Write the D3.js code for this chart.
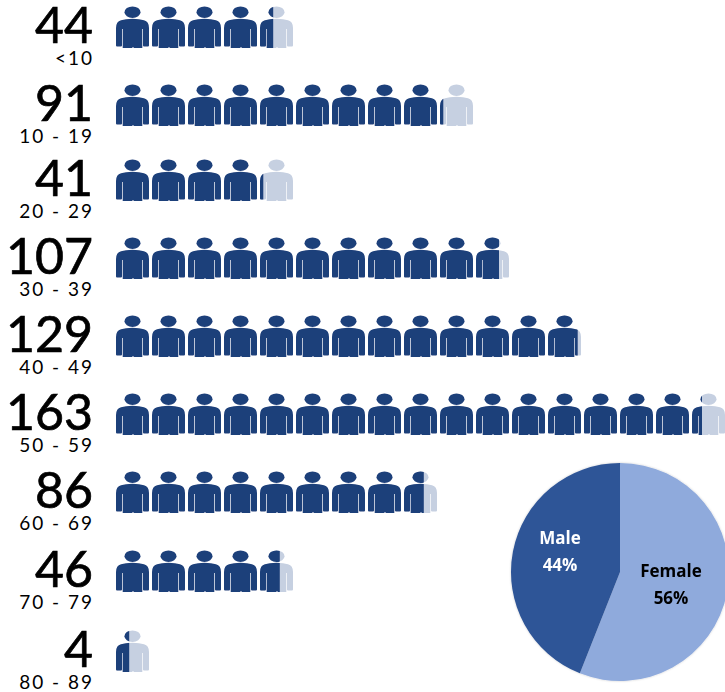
<!DOCTYPE html>
<html>
<head>
<meta charset="utf-8">
<script src="https://cdn.jsdelivr.net/npm/d3@7"></script>
<style>
  html, body { margin: 0; padding: 0; background: #fff; }
  svg { display: block; }
  text { font-family: Lato, sans-serif; }
</style>
</head>
<body>
<svg id="chart" width="725" height="692"></svg>
<script>
var ageGroups = ['<10', '10 - 19', '20 - 29', '30 - 39', '40 - 49', '50 - 59', '60 - 69', '70 - 79', '80 - 89'];
var counts = [44, 91, 41, 107, 129, 163, 86, 46, 4];
var genders = ['Female', 'Male'];
var genderShare = [56, 44];

var perIcon = 10;
var iconW = 33, iconH = 41;
var darkBlue = '#1f3f7a', paleBlue = '#c6d0e1';

var svg = d3.select('#chart');

// rows are not quite evenly spaced in the original
var rowTop = d3.scaleOrdinal(ageGroups, [7, 85, 160, 238, 316, 394, 472, 551, 631]);
var iconX = d3.scaleLinear().domain([0, 1]).range([116, 152]);

var defs = svg.append('defs');
var shadow = defs.append('filter').attr('id', 'pieShadow')
  .attr('x', '-10%').attr('y', '-10%').attr('width', '120%').attr('height', '120%');
shadow.append('feDropShadow').attr('dx', 0).attr('dy', 0).attr('stdDeviation', 1.2)
  .attr('flood-color', '#000').attr('flood-opacity', 0.2);

var soft = defs.append('filter').attr('id', 'soft');
soft.append('feGaussianBlur').attr('stdDeviation', 0.35);

var person = defs.append('g').attr('id', 'person');
person.append('ellipse').attr('cx', 16.5).attr('cy', 5.2).attr('rx', 8).attr('ry', 5.8);
person.append('path').attr('d',
  'M10,12.3 Q16.5,11.2 23,12.3 L28,13.2 Q33,14.5 33,21 L33,38.5 Q33,39.5 32,39.5 L28,39.5 Q27,39.5 27,38.5 ' +
  'L27,22 L26.3,22 L26.3,41 L18,41 L17,40 L16,41 L6.7,41 L6.7,22 L6,22 L6,38.5 Q6,39.5 5,39.5 L1,39.5 ' +
  'Q0,39.5 0,38.5 L0,21 Q0,14.5 5,13.2 Z');

// one entry per icon, with how much of it is filled
var icons = [];
counts.forEach(function(count, r) {
  d3.range(Math.ceil(count / perIcon)).forEach(function(i) {
    icons.push({ id: r + '-' + i, age: ageGroups[r], i: i, fill: Math.min(1, count / perIcon - i) });
  });
});

defs.selectAll('clipPath.part')
  .data(icons)
  .enter()
  .append('clipPath')
  .attr('class', 'part')
  .attr('id', function(d) { return 'clip-' + d.id; })
  .append('rect')
  .attr('x', 0)
  .attr('y', -1)
  .attr('width', function(d) { return d.fill * iconW; })
  .attr('height', iconH + 2);

var iconG = svg.append('g')
  .attr('filter', 'url(#soft)')
  .selectAll('g.icon')
  .data(icons)
  .enter()
  .append('g')
  .attr('class', 'icon')
  .attr('transform', function(d) {
    return 'translate(' + iconX(d.i) + ',' + rowTop(d.age) + ')';
  });

iconG.filter(function(d) { return d.fill < 1; })
  .append('use')
  .attr('href', '#person')
  .attr('fill', paleBlue);

iconG.append('use')
  .attr('href', '#person')
  .attr('fill', darkBlue)
  .attr('clip-path', function(d) { return 'url(#clip-' + d.id + ')'; });

svg.selectAll('text.count')
  .data(counts)
  .enter()
  .append('text')
  .attr('class', 'count')
  .attr('x', 93)
  .attr('y', function(d, i) { return rowTop(ageGroups[i]) + 36; })
  .attr('text-anchor', 'end')
  .attr('fill', '#000')
  .attr('stroke', '#000')
  .attr('stroke-width', 0.7)
  .style('font-size', '50px')
  .text(function(d) { return d; });

svg.selectAll('text.age')
  .data(ageGroups)
  .enter()
  .append('text')
  .attr('class', 'age')
  .attr('x', 94)
  .attr('y', function(d) { return rowTop(d) + 58; })
  .attr('text-anchor', 'end')
  .attr('fill', '#000')
  .style('font-size', '19px')
  .style('letter-spacing', '2px')
  .text(function(d) { return d; });

// gender pie
var pie = d3.pie().sort(null);
var arc = d3.arc().innerRadius(0).outerRadius(109);
var pieColor = d3.scaleOrdinal(genders, ['#8faadc', '#2f5597']);
var labelColor = d3.scaleOrdinal(genders, ['#000', '#fff']);
var labelAnchor = d3.scaleOrdinal(genders, [[51, 5], [-60, -28]]);

var pieG = svg.append('g').attr('transform', 'translate(620,572)');

pieG.append('g')
  .attr('filter', 'url(#pieShadow)')
  .selectAll('path')
  .data(pie(genderShare))
  .enter()
  .append('path')
  .attr('d', arc)
  .attr('fill', function(d, i) { return pieColor(genders[i]); });

var pieLabel = pieG.selectAll('text')
  .data(pie(genderShare))
  .enter()
  .append('text')
  .attr('transform', function(d, i) { return 'translate(' + labelAnchor(genders[i]) + ')'; })
  .attr('text-anchor', 'middle')
  .attr('fill', function(d, i) { return labelColor(genders[i]); })
  .style('font-family', '"Open Sans", sans-serif')
  .style('font-weight', '700')
  .style('font-size', '17px');

pieLabel.append('tspan')
  .attr('x', 0)
  .attr('dy', 0)
  .text(function(d, i) { return genders[i]; });

pieLabel.append('tspan')
  .attr('x', 0)
  .attr('dy', 27)
  .text(function(d) { return d.value + '%'; });
</script>
</body>
</html>
